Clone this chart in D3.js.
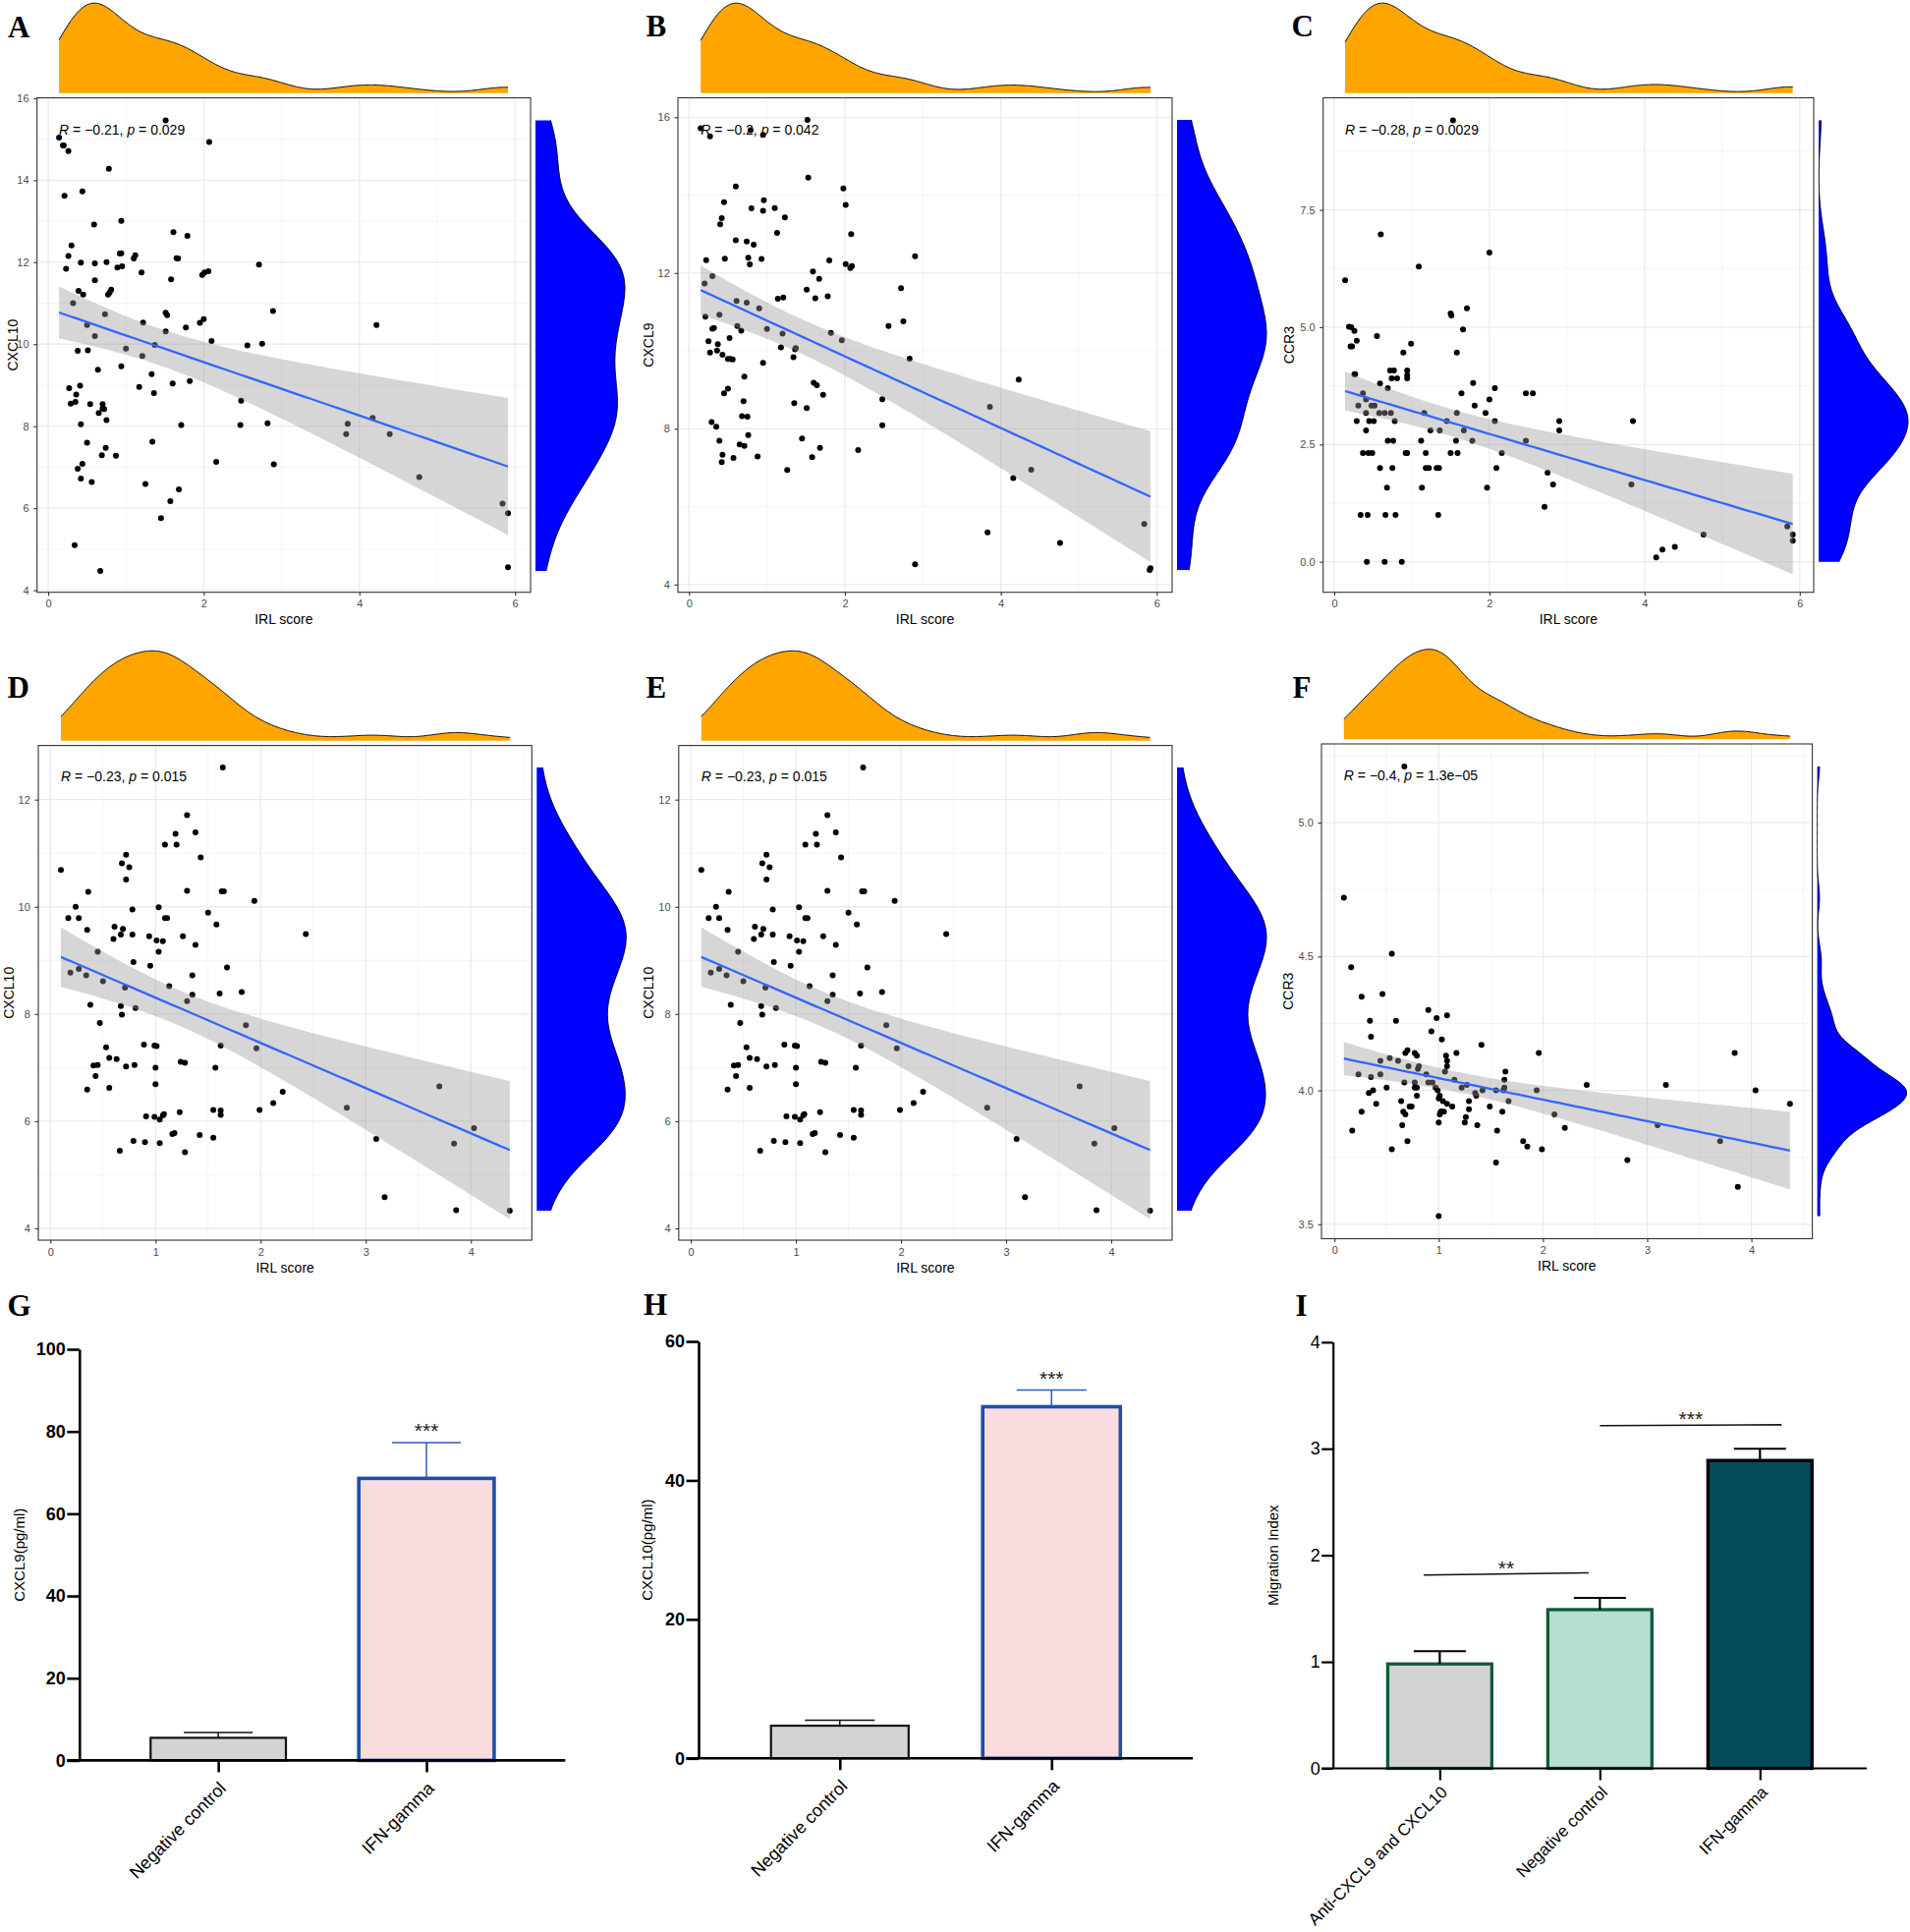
<!DOCTYPE html>
<html><head><meta charset="utf-8">
<script src="https://cdn.jsdelivr.net/npm/d3@7"></script>
<style>
body{margin:0;background:#fff;}
svg{display:block;font-family:"Liberation Sans",Arial,sans-serif;}
</style></head><body>
<svg id="fig" width="1944" height="1966"></svg>
<script>
// ---------------- DATA ----------------
// Panel A: IRL score vs CXCL10
const irlA = [0.14,0.19,0.20,0.26,0.78,0.21,0.44,0.59,0.94,0.30,
0.26,0.23,0.42,0.60,0.75,0.89,0.95,0.92,0.94,1.10,
1.12,1.20,0.60,0.39,0.45,0.77,0.79,0.81,0.32,0.50,
0.60,0.73,0.38,0.51,0.64,1.00,0.94,0.27,0.41,0.29,
0.35,0.36,0.54,0.70,0.65,0.70,0.72,0.75,0.42,0.50,
0.44,0.38,0.42,0.56,0.69,0.74,0.87,0.34,0.67,1.22,
1.21,1.17,1.33,1.36,1.37,1.34,1.25,1.51,1.51,1.53,
1.51,1.58,1.61,1.65,1.67,1.79,1.77,1.82,1.60,1.71,
1.57,1.45,1.68,1.95,2.00,1.98,2.01,2.06,2.07,2.10,
2.16,2.48,2.47,2.56,2.71,2.75,2.89,2.82,2.90,3.83,
3.85,4.17,4.22,4.39,4.77,5.84,5.91,5.91];
const cxcl10A = [15.04,14.85,14.85,14.71,14.28,13.62,13.73,12.92,13.01,12.41,
12.15,11.84,11.99,11.97,12.00,11.87,11.90,12.21,12.22,12.09,
12.17,11.75,11.56,11.30,11.21,11.21,11.26,11.33,11.00,10.47,
10.20,10.73,9.84,9.85,9.38,9.89,9.46,8.93,8.99,8.55,
8.59,8.77,8.54,8.54,8.32,8.43,8.42,8.15,8.05,7.60,
7.08,6.96,6.72,6.64,7.29,7.47,7.28,5.10,4.47,10.53,
9.71,8.96,9.27,8.81,9.98,7.62,6.59,15.46,10.77,10.71,
10.31,11.58,12.73,12.10,12.09,12.64,10.41,9.10,9.04,8.03,
6.17,5.76,6.46,10.52,10.61,11.69,11.75,11.78,14.93,10.08,
7.13,8.62,8.03,9.97,11.94,10.01,10.81,8.07,7.07,7.81,
8.06,8.20,10.47,7.81,6.76,6.11,5.88,4.56];

// Panel B: IRL score vs CXCL9
const irlB = [0.15,0.27,0.79,0.95,1.52,1.53,0.60,1.98,2.01,0.96,
0.45,0.80,0.95,1.10,0.42,0.40,1.23,1.13,2.08,0.60,
0.74,0.83,0.22,0.46,0.76,0.93,0.78,1.80,2.90,2.01,
2.09,2.07,1.59,1.67,0.30,0.20,1.51,2.72,1.14,1.21,
1.62,1.78,0.61,0.74,0.90,0.39,0.21,2.56,2.75,0.30,
0.32,0.67,0.62,1.00,1.20,1.82,0.52,0.25,0.37,1.96,
0.27,0.36,0.43,0.50,0.53,0.56,1.18,1.37,1.36,1.34,
2.83,0.95,0.71,4.23,1.64,1.60,0.50,0.45,1.72,0.70,
2.48,1.35,1.51,3.86,0.68,0.75,0.29,0.35,2.48,0.39,
0.76,1.45,0.65,0.71,1.68,2.17,0.43,0.88,1.58,0.42,
0.57,1.26,4.39,4.16,5.84,3.83,4.76,2.90,5.92,5.91];
const cxcl9B = [15.72,15.51,15.67,15.55,15.93,14.45,14.22,14.17,13.75,13.87,
13.82,13.66,13.60,13.67,13.41,13.25,13.43,13.03,13.00,12.84,
12.81,12.73,12.33,12.37,12.39,12.36,12.22,12.32,12.43,12.23,
12.18,12.13,12.04,11.85,11.92,11.73,11.57,11.61,11.34,11.37,
11.35,11.40,11.28,11.24,11.09,10.93,10.88,10.64,10.76,10.57,
10.59,10.52,10.64,10.56,10.44,10.46,10.33,10.25,10.17,10.27,
9.96,10.01,9.90,9.79,9.79,9.78,10.09,10.07,10.04,9.84,
9.80,9.69,9.34,9.26,9.12,9.18,9.03,8.91,8.87,8.71,
8.76,8.66,8.53,8.56,8.32,8.31,8.17,8.05,8.09,7.69,
7.84,7.75,7.60,7.56,7.51,7.45,7.33,7.29,7.27,7.14,
7.25,6.94,6.95,6.73,5.55,5.34,5.07,4.52,4.42,4.37];

// Panel C: IRL score vs CCR3
const irlC = [1.53,0.60,2.00,1.09,0.14,0.19,0.22,0.26,0.55,0.29,
0.21,0.23,1.58,0.89,0.99,1.71,1.50,1.51,1.66,0.27,
0.26,0.59,0.72,0.77,0.74,0.81,0.94,0.94,0.94,0.69,
0.37,0.41,0.31,0.48,0.52,0.45,0.51,0.29,0.41,0.58,
0.65,0.73,0.78,1.16,1.45,1.64,1.79,1.81,1.58,1.95,
2.00,2.07,2.07,1.67,2.47,2.56,2.90,2.90,2.47,1.78,
1.57,1.12,1.24,1.36,0.41,0.69,0.76,0.37,0.44,0.49,
1.18,1.50,1.59,0.92,0.94,2.16,0.59,0.75,1.18,1.22,
1.32,1.35,2.09,2.75,2.82,1.97,0.68,1.13,3.83,2.71,
0.34,0.43,0.66,0.79,1.34,0.42,0.65,0.87,3.85,4.15,
4.23,4.39,4.76,5.84,5.91,5.91];
const ccr3C = [9.41,6.98,6.59,6.29,6.00,5.01,5.00,4.92,4.81,4.71,
4.59,4.59,4.46,4.46,4.65,5.40,5.29,5.25,4.95,4.00,
4.00,3.80,4.08,4.08,3.91,3.91,4.08,3.98,3.91,3.70,
3.59,3.46,3.33,3.33,3.33,3.00,3.00,3.00,3.17,3.17,
3.17,3.17,3.00,3.17,3.00,3.59,3.81,3.33,3.17,3.17,
3.46,3.70,3.00,2.80,3.59,3.59,3.00,2.80,2.58,2.58,
2.58,2.58,2.80,2.80,2.80,2.58,2.58,2.32,2.32,2.32,
2.32,2.32,2.32,2.32,2.32,2.32,2.00,2.00,2.00,2.00,
2.00,2.00,2.00,1.90,1.65,1.58,1.58,1.58,1.65,1.17,
1.00,1.00,1.00,1.00,1.00,0.00,0.00,0.00,3.00,0.09,
0.26,0.32,0.58,0.75,0.58,0.45];

// Panels D and E: IRL score vs CXCL10 (second cohort)
const irlD = [1.64,1.30,1.38,1.19,1.20,1.09,1.43,0.72,0.68,0.75,
0.72,0.10,0.36,1.30,1.63,1.65,1.94,0.24,1.03,0.78,
0.17,0.27,1.09,1.11,1.50,1.58,0.35,0.61,0.69,0.60,
0.67,0.78,0.94,1.01,1.07,1.26,1.38,2.43,0.45,1.03,
0.79,0.95,1.68,0.19,0.27,0.34,0.50,0.71,1.13,1.35,
1.61,1.82,1.35,1.30,0.38,0.67,0.81,0.68,0.47,1.86,
0.53,0.89,0.99,1.01,1.62,1.96,0.56,0.63,0.41,0.45,
0.72,0.80,1.00,1.24,1.28,1.57,0.43,0.35,0.56,1.00,
2.21,2.12,1.99,2.82,1.23,1.55,1.62,1.62,0.91,0.99,
1.04,1.07,1.08,1.16,1.18,1.42,1.55,0.79,0.90,1.04,
1.28,0.66,3.70,3.10,4.03,3.84,3.18,3.86,4.37];
const cxcl10D = [12.60,11.71,11.39,11.36,11.16,11.16,10.92,10.97,10.81,10.74,
10.51,10.69,10.28,10.30,10.29,10.29,10.11,10.00,9.99,9.95,
9.79,9.79,9.79,9.79,9.89,9.67,9.57,9.63,9.59,9.40,
9.48,9.48,9.45,9.37,9.36,9.45,9.29,9.49,9.16,9.16,
8.97,8.90,8.87,8.77,8.84,8.72,8.61,8.49,8.52,8.72,
8.38,8.41,8.36,8.24,8.17,8.15,8.11,7.99,7.83,7.79,
7.38,7.43,7.41,7.40,7.41,7.36,7.18,7.16,7.04,7.05,
7.02,7.05,7.00,7.11,7.09,7.00,6.84,6.59,6.62,6.69,
6.55,6.34,6.21,6.25,6.17,6.21,6.20,6.12,6.09,6.08,
6.03,6.11,6.13,5.76,5.78,5.74,5.69,5.63,5.61,5.59,
5.42,5.45,6.65,5.67,5.87,5.58,4.58,4.34,4.33];

// Panel F: IRL score vs CCR3 (second cohort)
const irlF = [0.67,0.09,0.55,0.16,0.46,0.26,0.90,0.98,1.08,0.34,
0.59,0.93,0.35,1.03,1.41,1.17,1.07,1.08,0.79,0.77,
1.64,1.96,3.84,0.53,0.44,0.61,0.68,0.70,0.71,0.80,
0.81,1.06,1.08,0.23,0.35,0.44,0.88,0.90,0.67,0.77,
0.94,1.15,1.27,1.22,1.35,1.42,1.63,1.63,1.62,1.55,
1.94,2.42,3.18,4.04,0.33,0.37,0.40,0.50,0.97,0.77,
0.79,0.79,0.99,1.01,1.00,1.04,1.08,1.13,1.29,1.36,
1.49,1.67,1.03,1.01,1.02,1.05,0.64,0.72,0.74,0.66,
0.68,1.29,0.26,1.37,1.26,1.25,1.61,1.56,1.00,2.11,
2.21,3.10,0.17,0.65,0.70,0.55,1.81,1.85,1.99,2.81,
3.70,3.87,1.55,1.00,4.37];
const ccr3F = [5.21,4.72,4.51,4.46,4.36,4.35,4.30,4.27,4.28,4.26,
4.26,4.22,4.20,4.19,4.17,4.14,4.13,4.11,4.13,4.14,
4.07,4.14,4.14,4.12,4.11,4.11,4.14,4.15,4.09,4.08,
4.09,4.07,4.09,4.06,4.05,4.06,4.06,4.03,4.03,4.03,
4.03,4.04,4.02,4.01,3.99,4.00,4.04,4.01,4.00,4.00,
4.00,4.02,4.02,4.00,3.99,4.00,3.95,4.01,4.01,4.01,
4.01,3.98,4.00,3.98,3.97,3.96,3.95,3.94,3.96,3.98,
3.94,3.96,3.92,3.91,3.92,3.92,3.96,3.94,3.94,3.92,
3.91,3.93,3.92,3.87,3.90,3.88,3.92,3.85,3.88,3.91,
3.86,3.87,3.85,3.87,3.81,3.78,3.81,3.79,3.78,3.74,
3.81,3.64,3.73,3.53,3.95];

// correlation labels
const corrR = ["−0.21","−0.2","−0.28","−0.23","−0.23","−0.4"];
const corrP = ["0.029","0.042","0.0029","0.015","0.015","1.3e−05"];

// Bar panels
const catsGH = ["Negative control","IFN-gamma"];
const cxcl9Mean = [5.5, 68.6];
const cxcl9Err  = [1.3, 8.7];
const cxcl10Mean = [4.7, 50.6];
const cxcl10Err  = [0.8, 2.4];
const catsI = ["Anti-CXCL9 and CXCL10","Negative control","IFN-gamma"];
const migMean = [0.98, 1.49, 2.89];
const migErr  = [0.12, 0.11, 0.11];
const sigI = [
  {from:-0.1, to:0.93, y1:1.815, y2:1.835, label:"**"},
  {from:1.0, to:2.135, y1:3.217, y2:3.225, label:"***"}
];

// ---------------- HELPERS ----------------
const svg = d3.select("#fig");
const FONT = "'Liberation Sans', Arial, sans-serif";
const SERIF = "'Liberation Serif', 'Times New Roman', serif";

function kde(vals){
  const n = vals.length;
  const sorted = vals.slice().sort(d3.ascending);
  const sd = d3.deviation(vals);
  const iqr = d3.quantileSorted(sorted,0.75) - d3.quantileSorted(sorted,0.25);
  const lo = Math.min(sd, iqr/1.34) || sd;
  const bw = 0.9*lo*Math.pow(n,-0.2);
  const [a,b] = d3.extent(vals);
  const norm = 1/(bw*Math.sqrt(2*Math.PI));
  return d3.range(512).map(i=>{
    const p = a + (b-a)*i/511;
    return [p, norm*d3.mean(vals, v=>Math.exp(-0.5*((p-v)/bw)**2))];
  });
}
function tq(df){
  const z = 1.959964;
  return z + (z**3+z)/(4*df) + (5*z**5+16*z**3+3*z)/(96*df*df);
}
function linfit(xs, ys){
  const n = xs.length, mx = d3.mean(xs), my = d3.mean(ys);
  let sxx=0, sxy=0;
  for(let i=0;i<n;i++){ sxx += (xs[i]-mx)**2; sxy += (xs[i]-mx)*(ys[i]-my); }
  const b = sxy/sxx, a = my - b*mx;
  let sse = 0;
  for(let i=0;i<n;i++){ sse += (ys[i]-a-b*xs[i])**2; }
  const s = Math.sqrt(sse/(n-2)), t = tq(n-2);
  const [x0,x1] = d3.extent(xs);
  return d3.range(80).map(i=>{
    const x = x0 + (x1-x0)*i/79;
    const f = a + b*x;
    const se = s*Math.sqrt(1/n + (x-mx)**2/sxx);
    return {x, fit:f, lo:f - t*se, hi:f + t*se};
  });
}
function letter(txt, x, y){
  svg.append("text").attr("x",x).attr("y",y).text(txt)
    .attr("font-family",SERIF).attr("font-weight","bold").attr("font-size",31).attr("fill","#000");
}

// ---------------- SCATTER PANELS ----------------
const scatterPanels = [
 {letter:"A", lx:8, ly:37.5, xs:irlA, ys:cxcl10A, left:37.7, right:540, top:99.5, bottom:602.7,
  xDom:[-0.143,6.2], yDom:[3.95,16.01], xTicks:[0,2,4,6], xMinor:[1,3,5],
  yTicks:[4,6,8,10,12,14,16], yMinor:[5,7,9,11,13,15], yFmt:d3.format("d"), ylab:"CXCL10", ylabX:12.6},
 {letter:"B", lx:657.6, ly:36.5, xs:irlB, ys:cxcl9B, left:690, right:1193, top:99.5, bottom:602.7,
  xDom:[-0.142,6.198], yDom:[3.8,16.5], xTicks:[0,2,4,6], xMinor:[1,3,5],
  yTicks:[4,8,12,16], yMinor:[6,10,14], yFmt:d3.format("d"), ylab:"CXCL9", ylabX:660.5},
 {letter:"C", lx:1314.4, ly:36.7, xs:irlC, ys:ccr3C, left:1346.7, right:1846, top:99.5, bottom:602.7,
  xDom:[-0.143,6.18], yDom:[-0.65,9.89], xTicks:[0,2,4,6], xMinor:[1,3,5],
  yTicks:[0,2.5,5,7.5], yMinor:[1.25,3.75,6.25,8.75], yFmt:d3.format(".1f"), ylab:"CCR3", ylabX:1312},
 {letter:"D", lx:7.6, ly:710, xs:irlD, ys:cxcl10D, left:39, right:541.3, top:758.6, bottom:1262,
  xDom:[-0.115,4.58], yDom:[3.78,13.01], xTicks:[0,1,2,3,4], xMinor:[0.5,1.5,2.5,3.5,4.5],
  yTicks:[4,6,8,10,12], yMinor:[5,7,9,11,13], yFmt:d3.format("d"), ylab:"CXCL10", ylabX:9.5},
 {letter:"E", lx:657.6, ly:710, xs:irlD, ys:cxcl10D, left:690.8, right:1193, top:758.6, bottom:1262,
  xDom:[-0.115,4.58], yDom:[3.78,13.01], xTicks:[0,1,2,3,4], xMinor:[0.5,1.5,2.5,3.5,4.5],
  yTicks:[4,6,8,10,12], yMinor:[5,7,9,11,13], yFmt:d3.format("d"), ylab:"CXCL10", ylabX:660.5},
 {letter:"F", lx:1315.6, ly:710, xs:irlF, ys:ccr3F, left:1345, right:1844.6, top:757, bottom:1260.5,
  xDom:[-0.125,4.585], yDom:[3.446,5.294], xTicks:[0,1,2,3,4], xMinor:[0.5,1.5,2.5,3.5,4.5],
  yTicks:[3.5,4,4.5,5], yMinor:[3.75,4.25,4.75,5.25], yFmt:d3.format(".1f"), ylab:"CCR3", ylabX:1311.5}
];

scatterPanels.forEach((p, idx)=>{
  const x = d3.scaleLinear().domain(p.xDom).range([p.left,p.right]);
  const y = d3.scaleLinear().domain(p.yDom).range([p.bottom,p.top]);
  const g = svg.append("g");
  const cid = "clip"+idx;
  svg.append("clipPath").attr("id",cid).append("rect")
    .attr("x",p.left).attr("y",p.top).attr("width",p.right-p.left).attr("height",p.bottom-p.top);
  const inner = g.append("g").attr("clip-path",`url(#${cid})`);
  inner.append("rect").attr("x",p.left).attr("y",p.top).attr("width",p.right-p.left).attr("height",p.bottom-p.top).attr("fill","#fff");
  // minor grid
  inner.selectAll(".vmin").data(p.xMinor).join("line").attr("class","vmin")
    .attr("x1",d=>x(d)).attr("x2",d=>x(d)).attr("y1",p.top).attr("y2",p.bottom)
    .attr("stroke","#f2f2f2").attr("stroke-width",0.8);
  inner.selectAll(".hmin").data(p.yMinor).join("line").attr("class","hmin")
    .attr("y1",d=>y(d)).attr("y2",d=>y(d)).attr("x1",p.left).attr("x2",p.right)
    .attr("stroke","#f2f2f2").attr("stroke-width",0.8);
  // major grid
  inner.selectAll(".vmaj").data(p.xTicks).join("line").attr("class","vmaj")
    .attr("x1",d=>x(d)).attr("x2",d=>x(d)).attr("y1",p.top).attr("y2",p.bottom)
    .attr("stroke","#ebebeb").attr("stroke-width",1.3);
  inner.selectAll(".hmaj").data(p.yTicks).join("line").attr("class","hmaj")
    .attr("y1",d=>y(d)).attr("y2",d=>y(d)).attr("x1",p.left).attr("x2",p.right)
    .attr("stroke","#ebebeb").attr("stroke-width",1.3);
  // points
  inner.selectAll("circle").data(d3.range(p.xs.length)).join("circle")
    .attr("cx",i=>x(p.xs[i])).attr("cy",i=>y(p.ys[i])).attr("r",3).attr("fill","#000");
  // regression band + line
  const f = linfit(p.xs, p.ys);
  inner.append("path").datum(f)
    .attr("d", d3.area().x(d=>x(d.x)).y0(d=>y(d.lo)).y1(d=>y(d.hi)))
    .attr("fill","#999999").attr("fill-opacity",0.4);
  inner.append("path").datum(f)
    .attr("d", d3.line().x(d=>x(d.x)).y(d=>y(d.fit)))
    .attr("fill","none").attr("stroke","#3366FF").attr("stroke-width",2.3);
  // correlation annotation
  const ann = g.append("text")
    .attr("x", x(d3.min(p.xs))).attr("y", y(d3.max(p.ys)) + 14.5)
    .attr("font-family",FONT).attr("font-size",14).attr("fill","#000");
  ann.append("tspan").attr("font-style","italic").text("R");
  ann.append("tspan").text(` = ${corrR[idx]}, `);
  ann.append("tspan").attr("font-style","italic").text("p");
  ann.append("tspan").text(` = ${corrP[idx]}`);
  // border
  g.append("rect").attr("x",p.left).attr("y",p.top).attr("width",p.right-p.left).attr("height",p.bottom-p.top)
    .attr("fill","none").attr("stroke","#333").attr("stroke-width",1.1);
  // axes
  const styleAxis = s=>{
    s.attr("font-family",FONT).attr("font-size",11);
    s.select(".domain").remove();
    s.selectAll("line").attr("stroke","#333").attr("stroke-width",1.1);
    s.selectAll("text").attr("fill","#4d4d4d");
  };
  g.append("g").attr("transform",`translate(0,${p.bottom})`)
    .call(d3.axisBottom(x).tickValues(p.xTicks).tickFormat(d3.format("d")).tickSize(3.5).tickPadding(4.5))
    .call(styleAxis);
  g.append("g").attr("transform",`translate(${p.left},0)`)
    .call(d3.axisLeft(y).tickValues(p.yTicks).tickFormat(p.yFmt).tickSize(3.5).tickPadding(4.7))
    .call(styleAxis);
  // axis titles
  g.append("text").attr("x",(p.left+p.right)/2).attr("y",p.bottom+32.5).attr("text-anchor","middle")
    .attr("font-family",FONT).attr("font-size",14).attr("fill","#000").text("IRL score");
  g.append("text").attr("transform",`translate(${p.ylabX},${(p.top+p.bottom)/2}) rotate(-90)`)
    .attr("text-anchor","middle").attr("dy","0.35em")
    .attr("font-family",FONT).attr("font-size",14).attr("fill","#000").text(p.ylab);
  // top marginal density
  const kx = kde(p.xs), mxd = d3.max(kx, d=>d[1]);
  const tb = p.top - 4.8, th = 91.5;
  g.append("path").datum(kx)
    .attr("d", d3.area().x(d=>x(d[0])).y0(tb).y1(d=>tb - d[1]/mxd*th))
    .attr("fill","#FFA500");
  g.append("path").datum(kx)
    .attr("d", d3.line().x(d=>x(d[0])).y(d=>tb - d[1]/mxd*th))
    .attr("fill","none").attr("stroke","#000").attr("stroke-width",1);
  // right marginal density
  const ky = kde(p.ys), myd = d3.max(ky, d=>d[1]);
  const rl = p.right + 5, rw = 91;
  g.append("path").datum(ky)
    .attr("d", d3.area().y(d=>y(d[0])).x0(rl).x1(d=>rl + d[1]/myd*rw))
    .attr("fill","#0000FF");
  g.append("path").datum(ky)
    .attr("d", d3.line().y(d=>y(d[0])).x(d=>rl + d[1]/myd*rw))
    .attr("fill","none").attr("stroke","#000").attr("stroke-width",1);
  letter(p.letter, p.lx, p.ly);
});

// ---------------- BAR PANELS ----------------
const barPanels = [
 {letter:"G", lx:7.6, ly:1339, cats:catsGH, means:cxcl9Mean, errs:cxcl9Err,
  yDom:[0,100], yTicks:[0,20,40,60,80,100], axisX:80.8, xEnd:575.4, y0:1791.4, yTop:1373,
  fills:["#d3d3d3","#f9dcde"], strokes:["#111111","#1f4fa3"], barSW:[2.2,3.6],
  errColors:["#111111","#2a5cb5"], errSW:1.5, capW:70, axisSW:2.6, tickLen:12.5,
  tickWeight:"bold", tickSize:18, labSize:18, labShift:[4,25], ylab:"CXCL9(pg/ml)", ylabX:20, stars:[null,"***"]},
 {letter:"H", lx:655, ly:1338, cats:catsGH, means:cxcl10Mean, errs:cxcl10Err,
  yDom:[0,60], yTicks:[0,20,40,60], axisX:711, xEnd:1214, y0:1789.3, yTop:1365,
  fills:["#d3d3d3","#f9dcde"], strokes:["#111111","#1f4fa3"], barSW:[2.2,3.6],
  errColors:["#111111","#2a5cb5"], errSW:1.5, capW:71, axisSW:2.6, tickLen:12.5,
  tickWeight:"bold", tickSize:18, labSize:18, labShift:[4,25], ylab:"CXCL10(pg/ml)", ylabX:659, stars:[null,"***"]},
 {letter:"I", lx:1318.5, ly:1339, cats:catsI, means:migMean, errs:migErr,
  yDom:[0,4], yTicks:[0,1,2,3,4], axisX:1356.7, xEnd:1900, y0:1799.5, yTop:1365.8,
  fills:["#d3d3d3","#b6dfd2","#044b5c"], strokes:["#0f5b36","#0f5b36","#000000"], barSW:[3.3,3.3,3.3],
  errColors:["#000","#000","#000"], errSW:2.2, capW:53, axisSW:2.2, tickLen:11.5,
  tickWeight:"normal", tickSize:18, labSize:17, labShift:[4,21], ylab:"Migration Index", ylabX:1296, stars:[null,null,null], sig:sigI}
];

barPanels.forEach(c=>{
  const y = d3.scaleLinear().domain(c.yDom).range([c.y0, c.yTop]);
  const x = d3.scalePoint().domain(c.cats).range([c.axisX, c.xEnd]).padding(0.667);
  const bw = x.step()*0.65;
  const g = svg.append("g");
  // bars
  g.selectAll("rect.bar").data(c.cats).join("rect").attr("class","bar")
    .attr("x",d=>x(d)-bw/2).attr("y",(d,i)=>y(c.means[i]))
    .attr("width",bw).attr("height",(d,i)=>c.y0 - y(c.means[i]))
    .attr("fill",(d,i)=>c.fills[i]).attr("stroke",(d,i)=>c.strokes[i]).attr("stroke-width",(d,i)=>c.barSW[i]);
  // error bars (upper)
  c.cats.forEach((d,i)=>{
    const cx = x(d), yt = y(c.means[i]+c.errs[i]);
    g.append("line").attr("x1",cx).attr("x2",cx).attr("y1",y(c.means[i])).attr("y2",yt)
      .attr("stroke",c.errColors[i]).attr("stroke-width",c.errSW);
    g.append("line").attr("x1",cx-c.capW/2).attr("x2",cx+c.capW/2).attr("y1",yt).attr("y2",yt)
      .attr("stroke",c.errColors[i]).attr("stroke-width",c.errSW);
    if(c.stars[i]){
      g.append("text").attr("x",cx).attr("y",yt-5).attr("text-anchor","middle")
        .attr("font-family",FONT).attr("font-size",21).attr("fill","#222").text(c.stars[i]);
    }
  });
  // significance lines
  if(c.sig){
    const xi = d3.scaleLinear().domain([0,1]).range([x(c.cats[0]), x(c.cats[1])]);
    c.sig.forEach(s=>{
      g.append("line").attr("x1",xi(s.from)).attr("x2",xi(s.to)).attr("y1",y(s.y1)).attr("y2",y(s.y2))
        .attr("stroke","#111").attr("stroke-width",1.6);
      g.append("text").attr("x",(xi(s.from)+xi(s.to))/2).attr("y",y((s.y1+s.y2)/2)+1)
        .attr("text-anchor","middle").attr("font-family",FONT).attr("font-size",21).attr("fill","#222").text(s.label);
    });
  }
  // y axis
  const ya = g.append("g").attr("transform",`translate(${c.axisX},0)`)
    .call(d3.axisLeft(y).tickValues(c.yTicks).tickFormat(d3.format("d")).tickSize(c.tickLen).tickSizeOuter(0).tickPadding(1.5));
  ya.attr("font-family",FONT).attr("font-size",c.tickSize).attr("font-weight",c.tickWeight);
  ya.select(".domain").attr("stroke","#000").attr("stroke-width",c.axisSW);
  ya.selectAll(".tick line").attr("stroke","#000").attr("stroke-width",c.axisSW);
  ya.selectAll("text").attr("fill","#000");
  // x axis
  g.append("line").attr("x1",c.axisX - c.tickLen).attr("x2",c.xEnd).attr("y1",c.y0).attr("y2",c.y0)
    .attr("stroke","#000").attr("stroke-width",c.axisSW);
  const xa = g.append("g").attr("transform",`translate(0,${c.y0})`)
    .call(d3.axisBottom(x).tickSize(12).tickSizeOuter(0));
  xa.select(".domain").remove();
  xa.selectAll(".tick line").attr("stroke","#000").attr("stroke-width",c.axisSW);
  xa.attr("font-family",FONT).attr("font-size",c.labSize);
  xa.selectAll(".tick text").attr("fill","#000").attr("y",0).attr("dy","0.35em")
    .attr("text-anchor","end").attr("transform",`translate(${c.labShift[0]},${c.labShift[1]}) rotate(-45)`);
  // y title
  g.append("text").attr("transform",`translate(${c.ylabX},${(c.y0+c.yTop)/2}) rotate(-90)`)
    .attr("text-anchor","middle").attr("dy","0.35em")
    .attr("font-family",FONT).attr("font-size",15).attr("fill","#000").text(c.ylab);
  letter(c.letter, c.lx, c.ly);
});
</script>
</body></html>
